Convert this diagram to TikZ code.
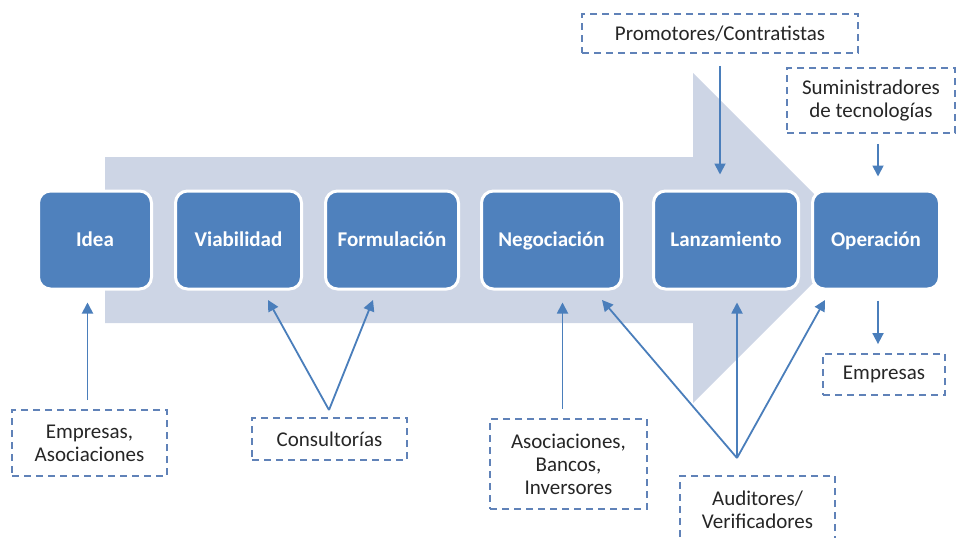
\documentclass[tikz,border=0pt]{standalone}
\usepackage{fontspec}
\setmainfont{Carlito}
\usetikzlibrary{arrows.meta}
\definecolor{boxblue}{RGB}{79,129,189}
\definecolor{bgarrow}{RGB}{205,213,229}
\definecolor{linkblue}{RGB}{74,126,187}
\definecolor{dashblue}{RGB}{96,130,184}
\tikzset{
  stage/.style={draw=white, line width=3pt, fill=boxblue, rounded corners=12pt,
    text=white, font=\fontsize{21}{23}\selectfont\bfseries, inner sep=0pt,
    minimum height=98pt, text height=13.5pt, text depth=0pt},
  actor/.style={draw=dashblue, line width=1.8pt, dash pattern=on 7pt off 5pt,
    font=\fontsize{21}{23}\selectfont, align=center, inner sep=0pt, text=black!85},
  conn/.style={draw=linkblue, line width=1.8pt, -{Triangle[width=11pt,length=11pt]}}
}
\begin{document}
\begin{tikzpicture}[x=1pt,y=-1pt]
\useasboundingbox (0,0) rectangle (975,538);
% big background arrow
\fill[bgarrow] (105,157) -- (693,157) -- (693,73) -- (858,238) -- (693,403) -- (693,323) -- (105,323) -- cycle;
% stages
\node[stage, minimum width=113pt] (idea) at (95,240) {Idea};
\node[stage, minimum width=126pt] (viab) at (238.5,240) {Viabilidad};
\node[stage, minimum width=133pt] (form) at (392,240) {Formulación};
\node[stage, minimum width=140pt] (nego) at (551.5,240) {Negociación};
\node[stage, minimum width=145pt] (lanz) at (726,240) {Lanzamiento};
\node[stage, minimum width=127pt] (oper) at (876,240) {Operación};
% actors
\node[actor, minimum width=276pt, minimum height=39pt] (prom) at (720,33.5) {Promotores/Contratistas};
\node[actor, minimum width=168pt, minimum height=65pt] (sumi) at (871,100.5) {Suministradores\\de tecnologías};
\node[actor, minimum width=122pt, minimum height=41pt] (emp2) at (884,374.5) {Empresas};
\node[actor, minimum width=155pt, minimum height=66pt] (emp1) at (89.5,443) {Empresas,\\Asociaciones};
\node[actor, minimum width=155pt, minimum height=42pt] (cons) at (329.5,439) {Consultorías};
\node[actor, minimum width=157pt, minimum height=90pt] (asoc) at (568.5,464) {Asociaciones,\\Bancos,\\Inversores};
\node[actor, minimum width=155pt, minimum height=68pt] (audi) at (757.5,510) {Auditores/\\Verificadores};
% connector end points
\coordinate (consTop) at (329,410);
\coordinate (audTop) at (737,458);
\coordinate (viabIn) at (268,300);
\coordinate (formIn) at (373,300);
\coordinate (negoIn) at (602,300);
\coordinate (operIn) at (825,300);
% connectors
\draw[conn, shorten <=12pt, shorten >=15pt] (prom.south) -- (prom.south |- lanz.north);
\draw[conn, shorten <=10pt, shorten >=13pt] ([xshift=2pt]sumi.south -| oper.center) -- ([xshift=2pt]oper.north);
\draw[conn, shorten <=10pt, shorten >=9pt] ([xshift=2pt]oper.south) -- ([xshift=2pt]oper.south |- emp2.north);
\draw[conn, shorten <=9pt, shorten >=12pt] ([xshift=-2pt]emp1.north) -- ([xshift=-2pt]emp1.north |- idea.south);
\draw[conn] (consTop) -- (viabIn);
\draw[conn] (consTop) -- (formIn);
\draw[conn, shorten <=9pt, shorten >=12pt] ([xshift=-6pt]asoc.north) -- ([xshift=-6pt]asoc.north |- nego.south);
\draw[conn] (audTop) -- (negoIn);
\draw[conn, shorten >=12pt] (audTop) -- (audTop |- lanz.south);
\draw[conn] (audTop) -- (operIn);
\end{tikzpicture}
\end{document}
